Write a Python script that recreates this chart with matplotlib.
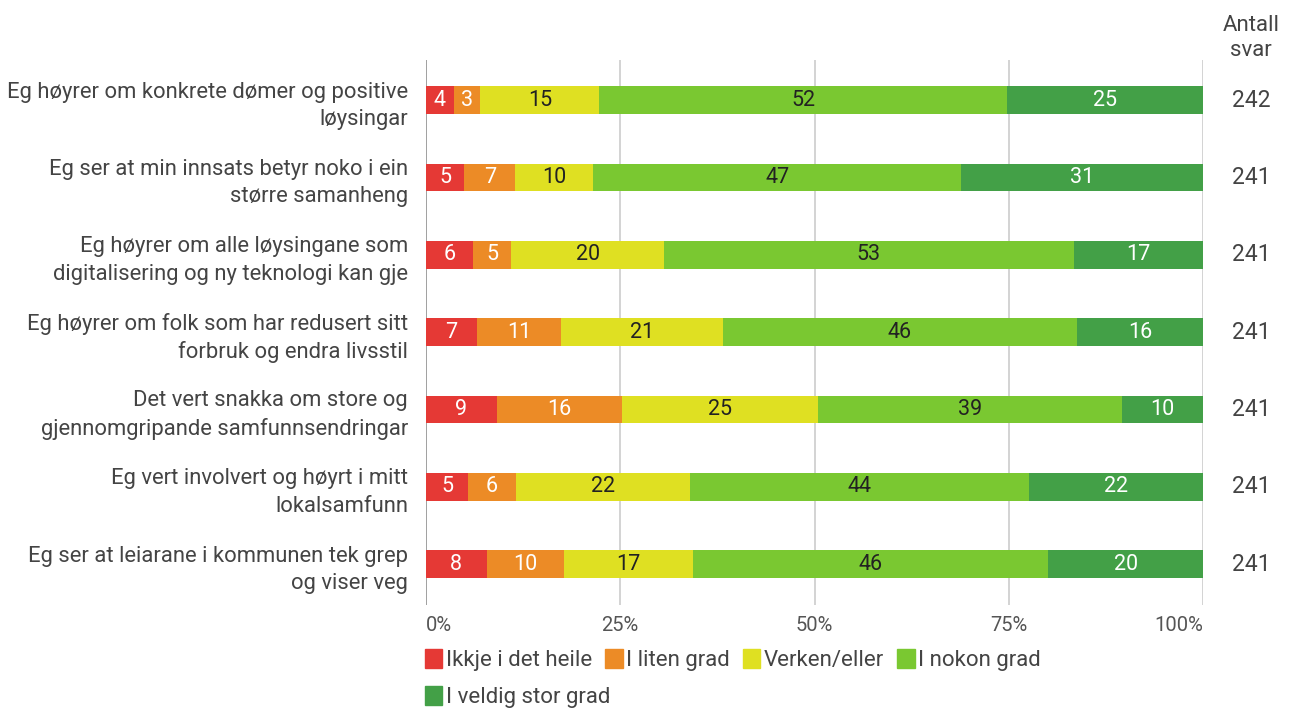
import matplotlib
matplotlib.use("Agg")
import matplotlib.pyplot as plt
from matplotlib.patches import Patch
from matplotlib.transforms import blended_transform_factory
import numpy as np

plt.rcParams['font.family'] = ['Roboto', 'DejaVu Sans']

categories = [
    "Eg høyrer om konkrete dømer og positive\nløysingar",
    "Eg ser at min innsats betyr noko i ein\nstørre samanheng",
    "Eg høyrer om alle løysingane som\ndigitalisering og ny teknologi kan gje",
    "Eg høyrer om folk som har redusert sitt\nforbruk og endra livsstil",
    "Det vert snakka om store og\ngjennomgripande samfunnsendringar",
    "Eg vert involvert og høyrt i mitt\nlokalsamfunn",
    "Eg ser at leiarane i kommunen tek grep\nog viser veg",
]
series_names = ["Ikkje i det heile", "I liten grad", "Verken/eller",
                "I nokon grad", "I veldig stor grad"]

# share of answers (%), per category, per series (as drawn)
ikkje = [3.6, 4.9, 6.1, 6.6, 9.1, 5.4, 7.8]
liten = [3.4, 6.6, 4.9, 10.8, 16.1, 6.2, 9.9]
verken = [15.3, 10.0, 19.6, 20.8, 25.3, 22.4, 16.7]
nokon = [52.5, 47.4, 52.8, 45.7, 39.1, 43.7, 45.7]
veldig = [25.2, 31.1, 16.6, 16.2, 10.4, 22.4, 19.9]

# labels printed on the segments
lab_ikkje = [4, 5, 6, 7, 9, 5, 8]
lab_liten = [3, 7, 5, 11, 16, 6, 10]
lab_verken = [15, 10, 20, 21, 25, 22, 17]
lab_nokon = [52, 47, 53, 46, 39, 44, 46]
lab_veldig = [25, 31, 17, 16, 10, 22, 20]

antall = [242, 241, 241, 241, 241, 241, 241]
xticks = [0, 25, 50, 75, 100]
xtick_labels = ["0%", "25%", "50%", "75%", "100%"]

colors = ["#E53935", "#EC8B26", "#DFE022", "#7AC831", "#43A047"]
text_colors = ["white", "white", "#222222", "#222222", "white"]

series = [ikkje, liten, verken, nokon, veldig]
labels = [lab_ikkje, lab_liten, lab_verken, lab_nokon, lab_veldig]

fig = plt.figure(figsize=(12.95, 7.09), dpi=100)
ax = fig.add_axes([426 / 1295, 1 - 605 / 709, (1203 - 426) / 1295, (605 - 60) / 709])

data = np.array(series, dtype=float)
data = data / data.sum(axis=0) * 100
y = np.arange(len(categories))
left = np.zeros(len(categories))
for i in range(len(series)):
    ax.barh(y, data[i], left=left, height=0.36, color=colors[i],
            label=series_names[i], zorder=3)
    for j in range(len(categories)):
        ax.text(left[j] + data[i][j] / 2, y[j], str(labels[i][j]),
                ha='center', va='center', fontsize=15.5,
                color=text_colors[i], zorder=4)
    left += data[i]

ax.set_xlim(0, 100)
ax.set_ylim(6.53, -0.52)
ax.set_xticks(xticks)
ax.set_xticklabels(xtick_labels)
ax.set_yticks(y)
ax.set_yticklabels(categories)
for t in ax.get_yticklabels():
    t.set_multialignment('right')
    t.set_linespacing(1.4)
ax.tick_params(axis='y', length=0, pad=13, labelsize=15.8, labelcolor='#444444')
ax.tick_params(axis='x', length=0, pad=8, labelsize=14.5, labelcolor='#555555')
xt = ax.get_xticklabels()
xt[0].set_ha('left')
xt[-1].set_ha('right')
ax.grid(axis='x', color='#CCCCCC', linewidth=1.2, zorder=0)
for s in ax.spines.values():
    s.set_visible(False)
ax.axvline(0, color='#999999', linewidth=1.2, zorder=2)

trans = blended_transform_factory(ax.transAxes, ax.transData)
for j, n in enumerate(antall):
    ax.text(1.062, y[j], str(n), transform=trans, ha='center', va='center',
            fontsize=16.5, color='#444444')
fig.text(1251 / 1295, 1 - 38 / 709, "Antall\nsvar", ha='center', va='center',
         fontsize=16, color='#444444', linespacing=1.25)

handles = [Patch(facecolor=c, edgecolor=c) for c in colors]
leg_kw = dict(frameon=False, fontsize=16, handlelength=0.78, handleheight=0.95,
              handletextpad=0.15, columnspacing=0.6, borderpad=0, borderaxespad=0,
              labelcolor='#444444')
leg1 = fig.legend(handles[:4], series_names[:4], loc='center left', ncol=4,
                  bbox_to_anchor=(425 / 1295, 1 - 660 / 709), **leg_kw)
leg2 = fig.legend(handles[4:], series_names[4:], loc='center left', ncol=1,
                  bbox_to_anchor=(425 / 1295, 1 - 697 / 709), **leg_kw)

fig.savefig("out.png", dpi=100)
